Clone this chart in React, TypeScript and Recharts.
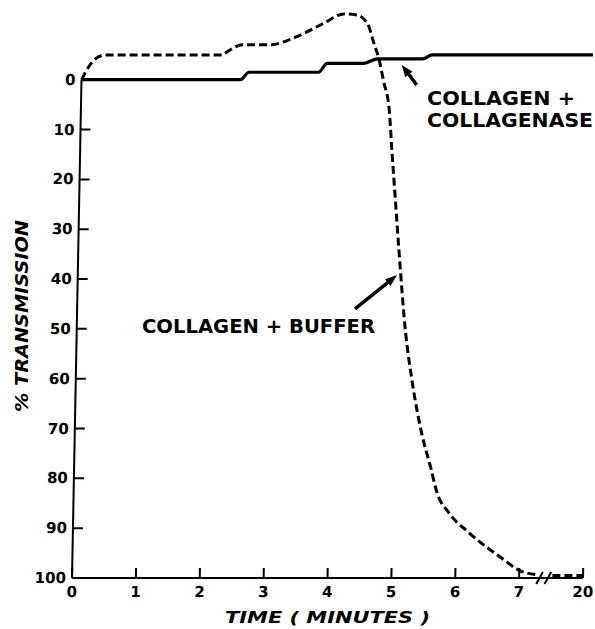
import { LineChart, Line, XAxis, YAxis, ReferenceLine } from "recharts";

// x positions 0..7 are minutes, position 8 is the 20 min point after the axis break
const timeTicks = [0, 1, 2, 3, 4, 5, 6, 7, 8];
const timeTickLabels = ["0", "1", "2", "3", "4", "5", "6", "7", "20"];
const transmissionTicks = [0, 10, 20, 30, 40, 50, 60, 70, 80, 90, 100];

const bufferTime = [0, 0.18, 0.36, 2.19, 2.3, 2.51, 2.93, 3.35, 3.77, 4.09, 4.29, 4.46, 4.57, 4.65, 4.73, 4.83, 4.88, 4.95, 5.02, 5.15, 5.27, 5.43, 5.58, 5.69, 5.88, 6.2, 6.72, 6.99, 7.3];
const bufferTransmission = [0, -3.8, -4.96, -4.96, -5.86, -7.0, -7.0, -8.6, -11.3, -13.2, -13.0, -11.3, -7.2, -4.2, 0.3, 6.4, 14.1, 24.1, 34.1, 50.8, 60.8, 70.9, 77.7, 82.9, 86.9, 90.9, 96, 98.4, 99.4];
const bufferTailTime = [7.52, 8];
const bufferTailTransmission = [99.5, 99.5];

const enzymeTime = [0, 2.49, 2.62, 3.71, 3.84, 4.42, 4.63, 5.34, 5.48, 8];
const enzymeTransmission = [0, 0, -1.5, -1.5, -3.3, -3.3, -4.2, -4.2, -5.0, -5.0];

const zip = (ts: number[], vs: number[]) => ts.map((t, i) => ({ t, v: vs[i] }));
const bufferData = zip(bufferTime, bufferTransmission);
const bufferTail = zip(bufferTailTime, bufferTailTransmission);
const enzymeData = zip(enzymeTime, enzymeTransmission);

const FONT = "'DejaVu Sans', sans-serif";

const XTick = (props: any) => {
  const { x, y, payload } = props;
  return (
    <g>
      <line x1={x} x2={x} y1={y} y2={y - 10} stroke="#000" strokeWidth={2} />
      <text x={x} y={y + 14} textAnchor="middle" dominantBaseline="central" fontFamily={FONT} fontWeight="bold" fontSize={15} fill="#000">
        {timeTickLabels[timeTicks.indexOf(payload.value)]}
      </text>
    </g>
  );
};

const YTick = (props: any) => {
  const { x, y, payload } = props;
  return (
    <g>
      <line x1={x} x2={x + 10} y1={y} y2={y} stroke="#000" strokeWidth={2} />
      <text x={x - 6} y={y} textAnchor="end" dominantBaseline="central" fontFamily={FONT} fontWeight="bold" fontSize={15} fill="#000">
        {payload.value}
      </text>
    </g>
  );
};

const Arrow = (props: any) => {
  const { x1, y1, x2, y2 } = props;
  const a = Math.atan2(y2 - y1, x2 - x1);
  const len = 12;
  const half = 4.5;
  const bx = x2 - len * Math.cos(a);
  const by = y2 - len * Math.sin(a);
  const px = -Math.sin(a) * half;
  const py = Math.cos(a) * half;
  return (
    <g>
      <line x1={x1} y1={y1} x2={bx} y2={by} stroke="#000" strokeWidth={3.5} />
      <polygon points={`${x2},${y2} ${bx + px},${by + py} ${bx - px},${by - py}`} fill="#000" />
    </g>
  );
};

export default function App() {
  return (
    <div style={{ position: "absolute", left: 0, top: 0, width: 595, height: 629, background: "#fff" }}>
      <div style={{ position: "absolute", left: 0, top: 0, transform: "skewX(-1.09deg)", transformOrigin: "0px 578px" }}>
        <LineChart width={595} height={629} margin={{ top: 0, right: 12, bottom: 0, left: 0 }}>
          <XAxis
            dataKey="t"
            type="number"
            domain={[0, 8]}
            ticks={timeTicks}
            height={51}
            tickSize={0}
            tickMargin={0}
            tickLine={false}
            axisLine={{ stroke: "#000", strokeWidth: 2 }}
            tick={<XTick />}
            interval={0}
          />
          <YAxis
            type="number"
            reversed
            domain={[-16, 100]}
            ticks={transmissionTicks}
            width={72}
            tickSize={0}
            tickMargin={0}
            tickLine={false}
            axisLine={false}
            tick={<YTick />}
            interval={0}
          />
          <ReferenceLine segment={[{ x: 0, y: 0 }, { x: 0, y: 100 }]} stroke="#000" strokeWidth={2} />
          <ReferenceLine segment={[{ x: 7.27, y: 101.2 }, { x: 7.37, y: 98.8 }]} stroke="#000" strokeWidth={2} ifOverflow="visible" />
          <ReferenceLine segment={[{ x: 7.4, y: 101.2 }, { x: 7.5, y: 98.8 }]} stroke="#000" strokeWidth={2} ifOverflow="visible" />
          <Line data={enzymeData} dataKey="v" type="monotone" stroke="#000" strokeWidth={3.2} dot={false} isAnimationActive={false} />
          <Line data={bufferData} dataKey="v" type="monotone" stroke="#000" strokeWidth={3} strokeDasharray="8 4" dot={false} isAnimationActive={false} />
          <Line data={bufferTail} dataKey="v" type="monotone" stroke="#000" strokeWidth={3} strokeDasharray="8 4" dot={false} isAnimationActive={false} />
          <ReferenceLine segment={[{ x: 5.25, y: 1.06 }, { x: 5.01, y: -2.95 }]} shape={<Arrow />} />
          <ReferenceLine segment={[{ x: 4.35, y: 46 }, { x: 5.0, y: 39.2 }]} shape={<Arrow />} />
        </LineChart>
      </div>
      <svg width={595} height={629} style={{ position: "absolute", left: 0, top: 0, pointerEvents: "none" }}>
        <g fontFamily={FONT} fontWeight="bold" fill="#000">
          <text x={427} y={105} fontSize={19} textLength={148} lengthAdjust="spacingAndGlyphs">COLLAGEN +</text>
          <text x={427} y={127} fontSize={19} textLength={166} lengthAdjust="spacingAndGlyphs">COLLAGENASE</text>
          <text x={142} y={333} fontSize={19} textLength={233} lengthAdjust="spacingAndGlyphs">COLLAGEN + BUFFER</text>
          <text x={225} y={623} fontSize={16} fontStyle="italic" textLength={205} lengthAdjust="spacingAndGlyphs">TIME ( MINUTES )</text>
          <text x={21.5} y={316} fontSize={17} fontStyle="italic" textAnchor="middle" dominantBaseline="central" transform="rotate(-90 21.5 316)" textLength={192} lengthAdjust="spacingAndGlyphs">% TRANSMISSION</text>
        </g>
      </svg>
    </div>
  );
}
